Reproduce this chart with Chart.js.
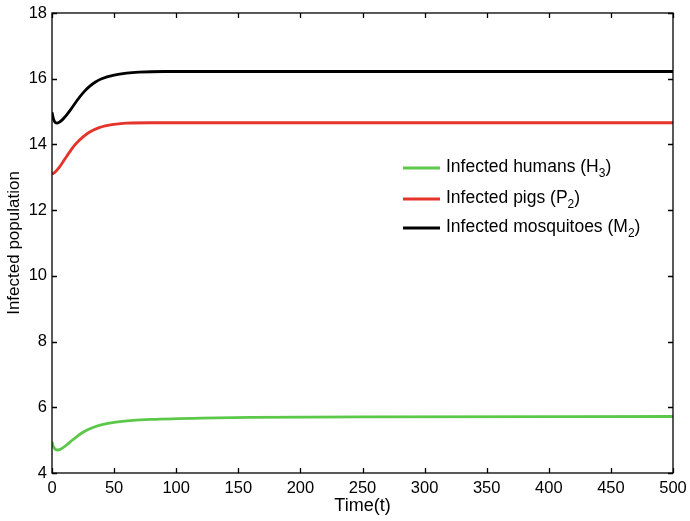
<!DOCTYPE html>
<html>
<head>
<meta charset="utf-8">
<script src="https://cdn.jsdelivr.net/npm/chart.js@4/dist/chart.umd.min.js"></script>
<style>
  html, body { margin: 0; padding: 0; background: #fff; }
  #wrap { width: 690px; height: 521px; }
</style>
</head>
<body>
<div id="wrap"><canvas id="chart" width="690" height="521"></canvas></div>
<script>
// time samples and infected counts for each compartment
const humansT = [0, 1, 2, 4, 6, 8, 12, 16, 20, 25, 30, 38, 50, 65, 80, 120, 160, 250, 500]
const humansY = [4.95, 4.82, 4.75, 4.70, 4.71, 4.75, 4.86, 4.99, 5.11, 5.24, 5.34, 5.45, 5.54, 5.60, 5.63, 5.67, 5.69, 5.71, 5.72]

const pigsT = [0, 2, 5, 8, 12, 17, 20, 25, 30, 38, 50, 60, 80, 500]
const pigsY = [13.10, 13.14, 13.26, 13.42, 13.65, 13.92, 14.05, 14.23, 14.37, 14.51, 14.61, 14.65, 14.66, 14.66]

const mosqT = [0, 1, 2, 4, 6, 8, 10, 12, 15, 20, 25, 30, 35, 40, 50, 60, 70, 90, 500]
const mosqY = [14.98, 14.80, 14.70, 14.65, 14.68, 14.74, 14.82, 14.91, 15.06, 15.33, 15.57, 15.76, 15.90, 16.00, 16.11, 16.17, 16.20, 16.22, 16.22]

const xTicks = [0, 50, 100, 150, 200, 250, 300, 350, 400, 450, 500]
const yTicks = [4, 6, 8, 10, 12, 14, 16, 18]

const legendNames = ['Infected humans (H', 'Infected pigs (P', 'Infected mosquitoes (M']
const legendSubs = ['3', '2', '2']
const colors = ['#5cc84a', '#e4332a', '#000000']

const FONT = 'Liberation Sans, Arial, sans-serif'

function toPoints(ts, ys) {
    return ts.map((t, i) => ({ x: t, y: ys[i] }))
}

function line(label, ts, ys, color) {
    return {
        label,
        data: toPoints(ts, ys),
        borderColor: color,
        borderWidth: 2.8,
        pointRadius: 0,
        cubicInterpolationMode: 'monotone',
        fill: false,
    }
}

// inward ticks on all four sides plus the box around the plot
const frameTicks = {
    id: 'frameTicks',
    afterDraw(chart) {
        const { ctx, chartArea: a, scales } = chart
        const len = 5
        ctx.save()
        ctx.strokeStyle = '#000'
        ctx.lineWidth = 1.3
        ctx.strokeRect(a.left, a.top, a.right - a.left, a.bottom - a.top)
        ctx.beginPath()
        for (const v of xTicks) {
            const px = Math.round(scales.x.getPixelForValue(v)) + 0.5
            ctx.moveTo(px, a.bottom); ctx.lineTo(px, a.bottom - len)
            ctx.moveTo(px, a.top); ctx.lineTo(px, a.top + len)
        }
        for (const v of yTicks) {
            const py = Math.round(scales.y.getPixelForValue(v)) + 0.5
            ctx.moveTo(a.left, py); ctx.lineTo(a.left + len, py)
            ctx.moveTo(a.right, py); ctx.lineTo(a.right - len, py)
        }
        ctx.stroke()
        ctx.restore()
    },
}

// legend with subscripts, drawn by hand
const subLegend = {
    id: 'subLegend',
    afterDraw(chart) {
        const ctx = chart.ctx
        const x0 = 403, x1 = 440, tx = 446
        const rows = [168, 199, 228]
        ctx.save()
        ctx.textBaseline = 'middle'
        rows.forEach((y, i) => {
            ctx.strokeStyle = colors[i]
            ctx.lineWidth = 2.8
            ctx.beginPath()
            ctx.moveTo(x0, y); ctx.lineTo(x1, y)
            ctx.stroke()
            ctx.fillStyle = '#000'
            ctx.font = '17.5px ' + FONT
            ctx.fillText(legendNames[i], tx, y - 1)
            let w = ctx.measureText(legendNames[i]).width
            ctx.font = '12px ' + FONT
            ctx.fillText(legendSubs[i], tx + w, y + 6)
            w += ctx.measureText(legendSubs[i]).width
            ctx.font = '17.5px ' + FONT
            ctx.fillText(')', tx + w, y - 1)
        })
        ctx.restore()
    },
}

new Chart(document.getElementById('chart'), {
    type: 'line',
    data: {
        datasets: [
            line('Infected humans', humansT, humansY, colors[0]),
            line('Infected pigs', pigsT, pigsY, colors[1]),
            line('Infected mosquitoes', mosqT, mosqY, colors[2]),
        ],
    },
    options: {
        responsive: false,
        animation: false,
        layout: { padding: { top: 13, right: 17, left: 0, bottom: 0 } },
        plugins: { legend: { display: false }, tooltip: { enabled: false } },
        scales: {
            x: {
                type: 'linear',
                min: 0,
                max: 500,
                afterBuildTicks: s => { s.ticks = xTicks.map(v => ({ value: v })) },
                afterFit: s => { s.height = 48; s.paddingLeft = 0; s.paddingRight = 0 },
                grid: { display: false, drawTicks: false },
                border: { display: false },
                ticks: { color: '#000', font: { family: FONT, size: 16.5 }, padding: 6, maxRotation: 0 },
                title: { display: true, text: 'Time(t)', color: '#000', font: { family: FONT, size: 18 }, padding: { top: 0, bottom: 4 } },
            },
            y: {
                min: 4,
                max: 18,
                afterBuildTicks: s => { s.ticks = yTicks.map(v => ({ value: v })) },
                afterFit: s => { s.width = 52; s.paddingTop = 0; s.paddingBottom = 0 },
                grid: { display: false, drawTicks: false },
                border: { display: false },
                ticks: { color: '#000', font: { family: FONT, size: 16.5 }, padding: 5 },
                title: { display: true, text: 'Infected population', color: '#000', font: { family: FONT, size: 17 }, padding: { top: 4, bottom: 0 } },
            },
        },
    },
    plugins: [frameTicks, subLegend],
})
</script>
</body>
</html>
